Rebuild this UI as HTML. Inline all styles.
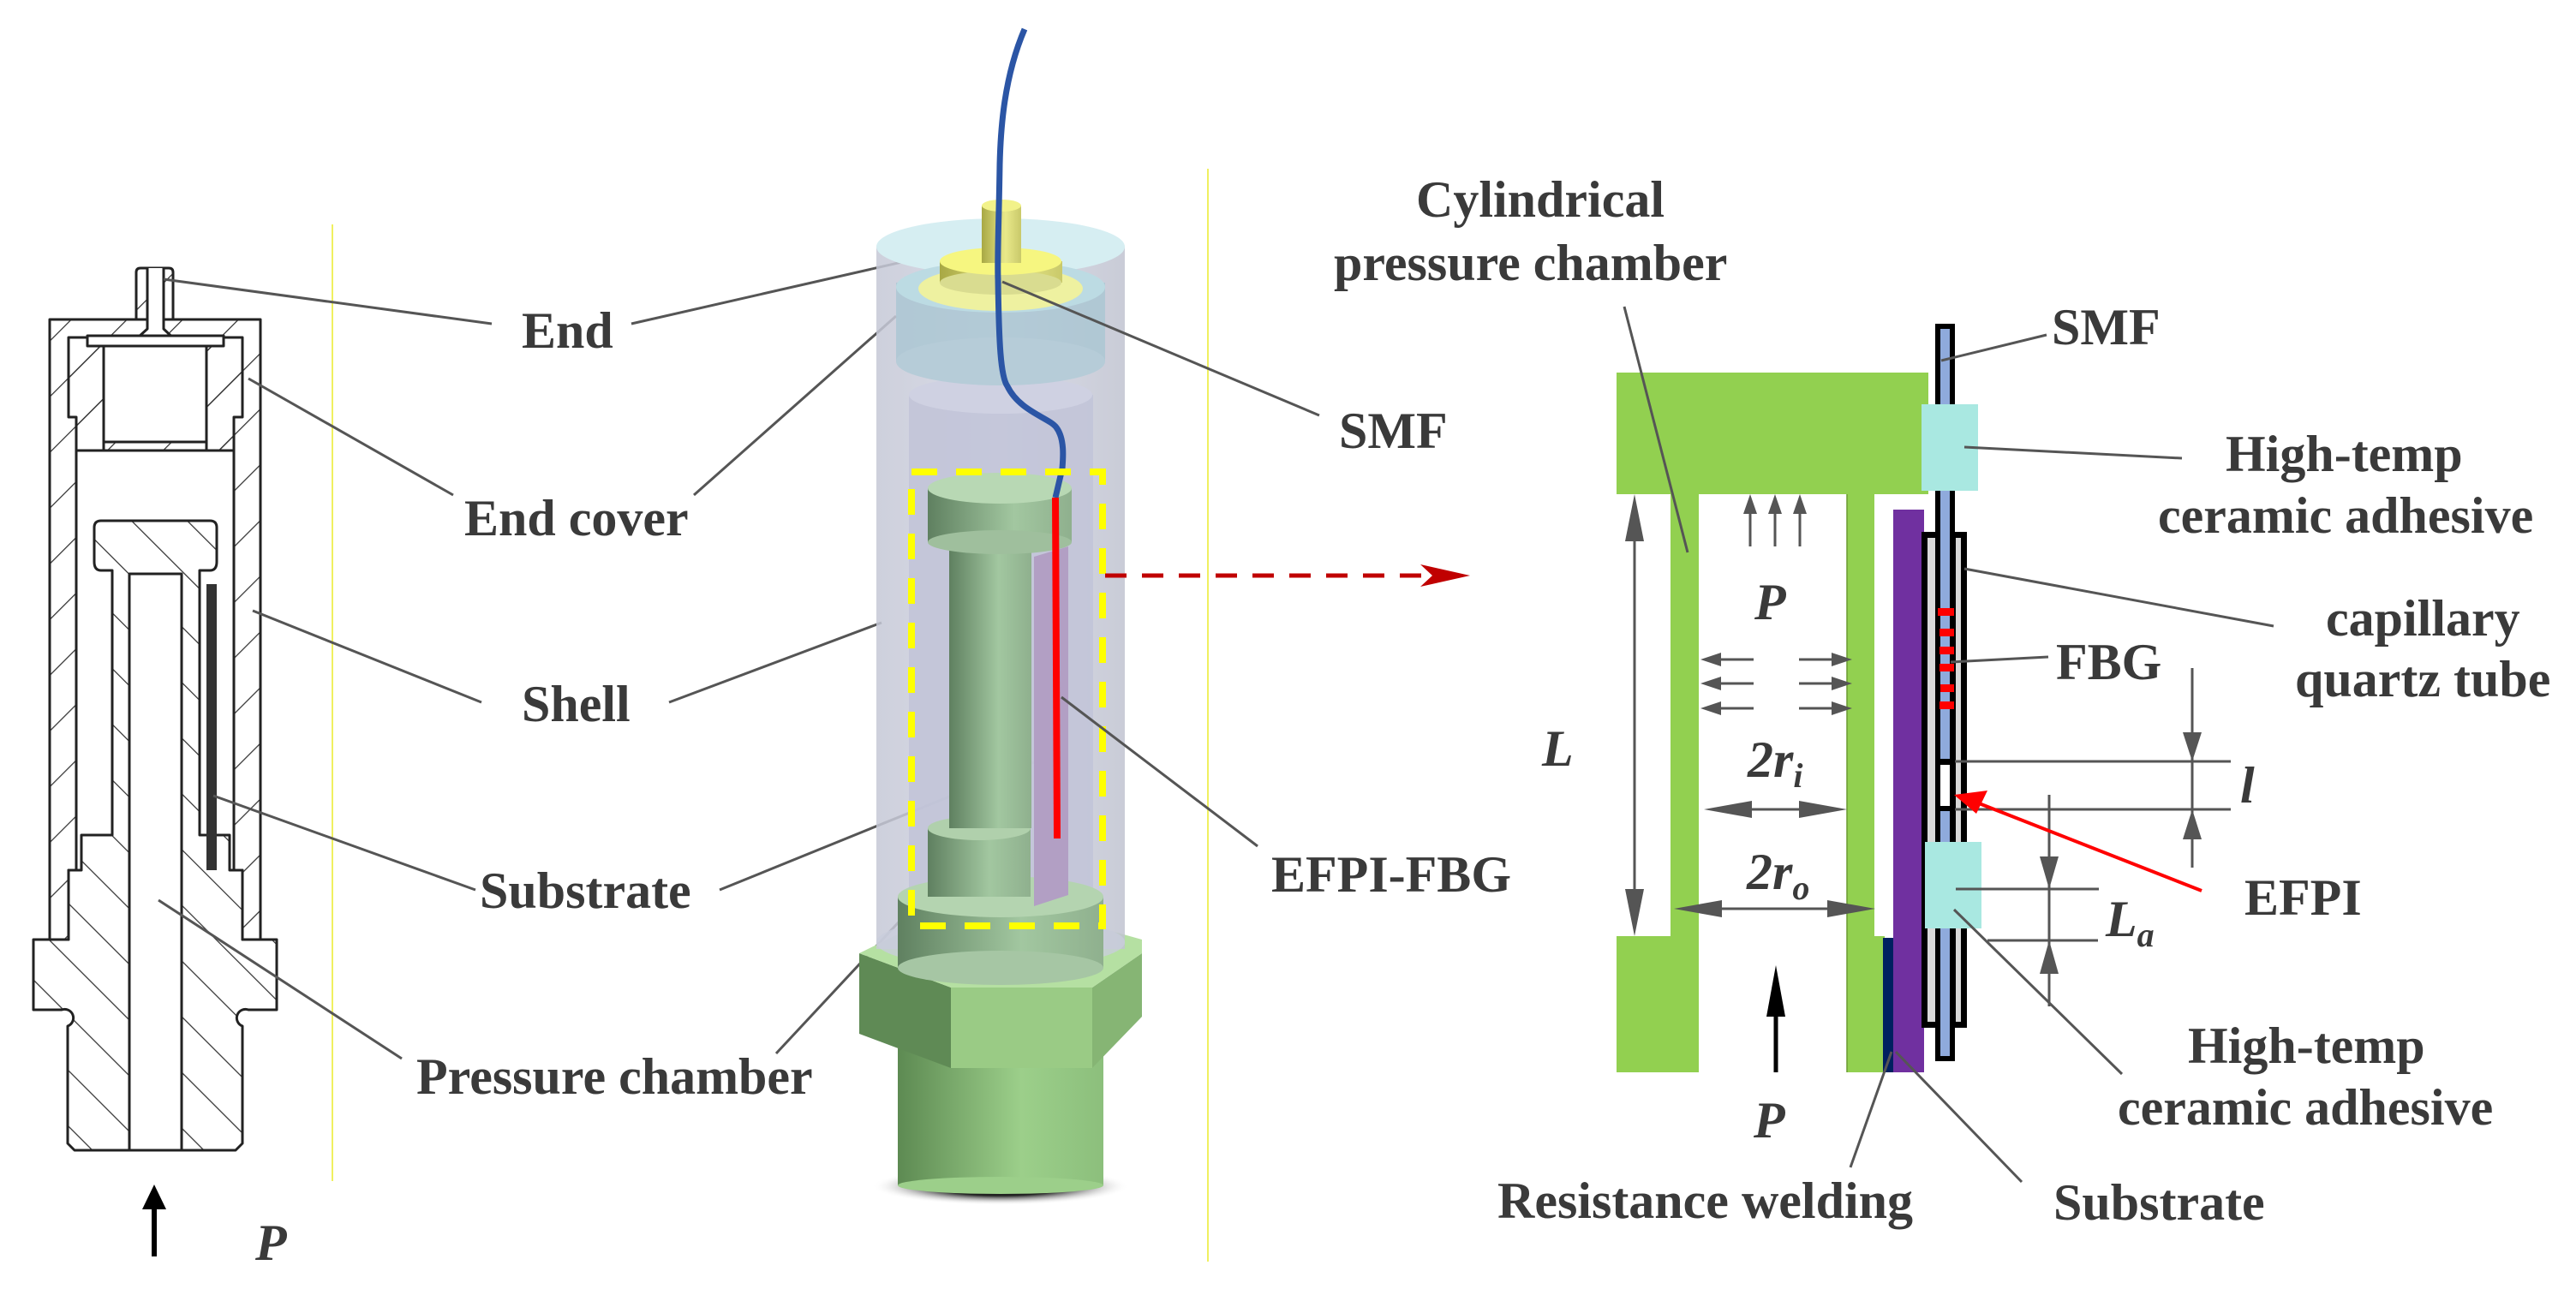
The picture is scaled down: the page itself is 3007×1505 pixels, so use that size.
<!DOCTYPE html>
<html><head><meta charset="utf-8"><style>
html,body{margin:0;padding:0;background:#fff}
svg{display:block}
text{font-family:"Liberation Serif",serif;font-weight:bold;fill:#3a3a3a;font-size:60px}
.it{font-style:italic}
</style></head><body>
<svg width="3007" height="1505" viewBox="0 0 3007 1505" xmlns="http://www.w3.org/2000/svg">
<defs>
<pattern id="h1" patternUnits="userSpaceOnUse" width="46" height="46" patternTransform="rotate(45)">
<line x1="0" y1="0" x2="0" y2="46" stroke="#333" stroke-width="2.5"/></pattern>
<pattern id="h2" patternUnits="userSpaceOnUse" width="46" height="46" patternTransform="rotate(-45)">
<line x1="0" y1="0" x2="0" y2="46" stroke="#333" stroke-width="2.5"/></pattern>
<linearGradient id="gG" x1="0" x2="1"><stop offset="0" stop-color="#5f8060"/><stop offset="0.6" stop-color="#a2c7a0"/><stop offset="1" stop-color="#8fb08e"/></linearGradient>
<linearGradient id="gB" x1="0" x2="1"><stop offset="0" stop-color="#5d8a52"/><stop offset="0.6" stop-color="#9ccf8a"/><stop offset="1" stop-color="#8cbf7c"/></linearGradient>
<linearGradient id="gShell" x1="0" x2="1"><stop offset="0" stop-color="#c5c8d6"/><stop offset="0.5" stop-color="#d3d5e3"/><stop offset="1" stop-color="#c0c3d0"/></linearGradient>
<linearGradient id="gY" x1="0" x2="1"><stop offset="0" stop-color="#a8a844"/><stop offset="0.6" stop-color="#e9e98a"/><stop offset="1" stop-color="#c9c96a"/></linearGradient>
<radialGradient id="shadow" cx="0.5" cy="0.5" r="0.5"><stop offset="0.5" stop-color="#222"/><stop offset="1" stop-color="#fff" stop-opacity="0"/></radialGradient>
<marker id="ah" markerWidth="10" markerHeight="10" refX="9" refY="5" orient="auto" markerUnits="userSpaceOnUse" viewBox="0 0 10 10"><path d="M0,0 L10,5 L0,10z" fill="#555"/></marker>
</defs>

<!-- ===== LEFT CROSS SECTION ===== -->
<g stroke="#222" stroke-width="3" stroke-linejoin="round">
<!-- shell -->
<path d="M58,373 H304 V1097 H283 V1016 H273 V526 H89 V1016 H80 V1097 H58 Z" fill="url(#h1)"/>
<!-- end cover -->
<path d="M80,394 H121 V404 H241 V394 H283 V487 H273 V526 H241 V516 H121 V526 H89 V487 H80 Z" fill="url(#h1)"/>
<rect x="121" y="404" width="120" height="112" fill="#fff"/>
<!-- nozzle -->
<path d="M159,373 V318 Q159,313 164,313 H197 Q202,313 202,318 V373 Z" fill="url(#h1)"/>
<path d="M172,313 V384 L150,404 H212 L191,384 V313" fill="#fff"/>
<path d="M102,404 H261 V392 H102 Z" fill="#fff"/>
<!-- substrate/pressure chamber body -->
<path d="M118,608 H245 Q253,608 253,616 V656 Q253,666 245,666 H233 V975 H268 V1016 H283 V1097 H323 V1179 H290 A10,10 0 0 0 283,1198 V1335 L275,1343 H87 L79,1335 V1198 A10,10 0 0 0 72,1179 H39 V1097 H80 V1016 H95 V975 H131 V666 H118 Q110,666 110,656 V616 Q110,608 118,608 Z" fill="url(#h2)"/>
<rect x="151" y="670" width="61" height="673" fill="#fff"/>
<line x1="151" y1="670" x2="151" y2="1343"/><line x1="212" y1="670" x2="212" y2="1343"/>
<line x1="151" y1="670" x2="212" y2="670"/>
</g>
<rect x="241" y="682" width="12" height="334" fill="#333"/>
<line x1="388" y1="262" x2="388" y2="1379" stroke="#f0f060" stroke-width="2"/>
<!-- P arrow -->
<line x1="180" y1="1400" x2="180" y2="1467" stroke="#000" stroke-width="6"/>
<path d="M166,1412 L180,1383 L194,1412 Z" fill="#000"/>
<text x="298" y="1471" class="it" font-size="66">P</text>

<!-- left labels & leaders -->
<g stroke="#555" stroke-width="3">
<line x1="191" y1="326" x2="574" y2="378"/><line x1="737" y1="378" x2="1123" y2="290"/>
<line x1="290" y1="442" x2="529" y2="578"/><line x1="810" y1="578" x2="1046" y2="369"/>
<line x1="295" y1="713" x2="562" y2="820"/><line x1="781" y1="820" x2="1029" y2="727"/>
<line x1="249" y1="929" x2="555" y2="1039"/><line x1="840" y1="1039" x2="1207" y2="890"/>
<line x1="185" y1="1051" x2="469" y2="1236"/><line x1="906" y1="1230" x2="1155" y2="963"/>
</g>
<text x="609" y="406">End</text>
<text x="542" y="625">End cover</text>
<text x="609" y="842">Shell</text>
<text x="560" y="1060">Substrate</text>
<text x="486" y="1277">Pressure chamber</text>

<!-- ===== 3D MODEL ===== -->
<ellipse cx="1168" cy="1385" rx="150" ry="22" fill="url(#shadow)"/>
<rect x="1048" y="1224" width="240" height="160" fill="url(#gB)"/>
<ellipse cx="1168" cy="1384" rx="120" ry="10" fill="#9ccf8a"/>
<!-- hex nut -->
<path d="M1003,1113 L1110,1153 L1110,1247 L1003,1207 Z" fill="#5f8a55"/>
<path d="M1110,1153 L1275,1153 L1275,1247 L1110,1247 Z" fill="#9acb85"/>
<path d="M1275,1153 L1333,1113 L1333,1187 L1275,1247 Z" fill="#86b574"/>
<path d="M1003,1113 L1060,1085 L1290,1085 L1333,1097 L1333,1113 L1275,1153 L1110,1153 Z" fill="#b5e0a2"/>
<!-- outer transparent cylinder -->
<rect x="1023" y="288" width="290" height="820" fill="url(#gShell)" opacity="0.85"/>
<ellipse cx="1168" cy="1100" rx="145" ry="30" fill="#c9cddc" opacity="0.8"/>
<rect x="1061" y="461" width="215" height="600" fill="#c2c4d8" opacity="0.9"/>
<ellipse cx="1168" cy="461" rx="107" ry="22" fill="#cfd1e2"/>
<!-- end cover ring -->
<rect x="1046" y="330" width="244" height="92" fill="#a9c5d2" opacity="0.8"/>
<ellipse cx="1168" cy="422" rx="122" ry="28" fill="#b6ccd8"/>
<ellipse cx="1168" cy="288" rx="145" ry="33" fill="#d6eef2"/>
<ellipse cx="1168" cy="335" rx="122" ry="30" fill="#bcdbe3"/>
<!-- yellow discs -->
<ellipse cx="1168" cy="337" rx="96" ry="26" fill="#eef1a0"/>
<rect x="1097" y="305" width="143" height="25" fill="url(#gY)"/>
<ellipse cx="1168" cy="330" rx="71" ry="14" fill="#d9dc90"/>
<ellipse cx="1168" cy="305" rx="71" ry="16" fill="#f6f680"/>
<rect x="1146" y="240" width="46" height="67" fill="url(#gY)"/>
<ellipse cx="1169" cy="240" rx="23" ry="7" fill="#f2f28a"/>
<!-- bobbin -->
<rect x="1048" y="1047" width="240" height="83" fill="url(#gG)"/>
<ellipse cx="1168" cy="1130" rx="120" ry="20" fill="#a6c6a4"/>
<ellipse cx="1168" cy="1047" rx="120" ry="24" fill="#b4d4b0"/>
<rect x="1083" y="967" width="120" height="80" fill="url(#gG)"/>
<ellipse cx="1143" cy="967" rx="60" ry="14" fill="#b0d0ac"/>
<rect x="1108" y="633" width="96" height="334" fill="url(#gG)"/>
<rect x="1083" y="570" width="168" height="63" fill="url(#gG)"/>
<ellipse cx="1167" cy="633" rx="84" ry="14" fill="#9fbf9d"/>
<ellipse cx="1167" cy="570" rx="84" ry="18" fill="#b8d8b4"/>
<!-- purple substrate -->
<path d="M1207,650 L1247,638 L1247,1045 L1207,1058 Z" fill="#b29fc4"/>
<!-- fibers -->
<path d="M1196,34 C1172,90 1168,150 1167,192 C1166,260 1164,300 1165,326 C1166,400 1168,440 1176,451 C1190,480 1225,488 1233,499 C1243,512 1241,535 1240,547 L1232,581" fill="none" stroke="#2b55a5" stroke-width="7"/>
<line x1="1232" y1="581" x2="1234" y2="979" stroke="#f00" stroke-width="8"/>
<!-- yellow dashed box -->
<rect x="1064" y="551" width="223" height="530" fill="none" stroke="#ffff00" stroke-width="8" stroke-dasharray="30,22"/>
<!-- red dashed arrow -->
<line x1="1290" y1="672" x2="1690" y2="672" stroke="#c00000" stroke-width="5" stroke-dasharray="25,18"/>
<path d="M1658,659 L1716,672 L1658,685 L1672,672 Z" fill="#c00000"/>
<line x1="1410" y1="197" x2="1410" y2="1473" stroke="#f0f060" stroke-width="2"/>
<g stroke="#555" stroke-width="3">
<line x1="1170" y1="329" x2="1540" y2="485"/>
<line x1="1239" y1="814" x2="1468" y2="988"/>
</g>
<text x="1563" y="523">SMF</text>
<text x="1484" y="1041">EFPI-FBG</text>

<!-- ===== RIGHT SCHEMATIC ===== -->
<text x="1653" y="253">Cylindrical</text>
<text x="1557" y="327">pressure chamber</text>
<rect x="1887" y="435" width="364" height="142" fill="#92d050"/>
<rect x="1950" y="577" width="33" height="675" fill="#92d050"/>
<rect x="1887" y="1093" width="96" height="159" fill="#92d050"/>
<rect x="2156" y="577" width="32" height="675" fill="#92d050"/>
<line x1="2156" y1="577" x2="2156" y2="1252" stroke="#6a9a30" stroke-width="1.5"/>
<rect x="2188" y="1093" width="12" height="159" fill="#92d050"/>
<rect x="2198" y="1095" width="16" height="157" fill="#002060"/>
<rect x="2210" y="595" width="36" height="657" fill="#7030a0"/>
<!-- capillary -->
<rect x="2243" y="621" width="53" height="579" fill="#000"/>
<rect x="2250" y="628" width="9" height="565" fill="#d9d9d9"/>
<rect x="2283" y="628" width="6" height="565" fill="#d9d9d9"/>
<rect x="2259" y="378" width="23" height="861" fill="#000"/>
<rect x="2265" y="384" width="11" height="849" fill="#8faadc"/>
<rect x="2265" y="886" width="11" height="61" fill="#000"/>
<rect x="2265" y="893" width="11" height="48" fill="#fff"/>
<g fill="#f00">
<rect x="2262" y="710" width="19" height="9"/><rect x="2264" y="734" width="17" height="9"/>
<rect x="2264" y="755" width="17" height="9"/><rect x="2264" y="775" width="17" height="9"/>
<rect x="2265" y="799" width="16" height="9"/><rect x="2264" y="819" width="17" height="9"/>
</g>
<rect x="2243" y="472" width="66" height="101" fill="#a9e8e1"/>
<rect x="2247" y="983" width="66" height="101" fill="#a9e8e1"/>
<!-- pressure arrows -->
<g stroke="#555" stroke-width="3" fill="#555">
<line x1="2043" y1="638" x2="2043" y2="595"/><path d="M2035,600 L2043,577 L2051,600Z" stroke="none"/>
<line x1="2072" y1="638" x2="2072" y2="595"/><path d="M2064,600 L2072,577 L2080,600Z" stroke="none"/>
<line x1="2101" y1="638" x2="2101" y2="595"/><path d="M2093,600 L2101,577 L2109,600Z" stroke="none"/>
<line x1="2047" y1="770" x2="2005" y2="770"/><path d="M2009,762 L1985,770 L2009,778Z" stroke="none"/>
<line x1="2047" y1="798" x2="2005" y2="798"/><path d="M2009,790 L1985,798 L2009,806Z" stroke="none"/>
<line x1="2047" y1="827" x2="2005" y2="827"/><path d="M2009,819 L1985,827 L2009,835Z" stroke="none"/>
<line x1="2100" y1="770" x2="2140" y2="770"/><path d="M2138,762 L2162,770 L2138,778Z" stroke="none"/>
<line x1="2100" y1="798" x2="2140" y2="798"/><path d="M2138,790 L2162,798 L2138,806Z" stroke="none"/>
<line x1="2100" y1="827" x2="2140" y2="827"/><path d="M2138,819 L2162,827 L2138,835Z" stroke="none"/>
<!-- L dim -->
<line x1="1908" y1="600" x2="1908" y2="1070"/>
<path d="M1897,632 L1908,577 L1919,632Z" stroke="none"/>
<path d="M1897,1038 L1908,1093 L1919,1038Z" stroke="none"/>
<!-- 2ri -->
<line x1="2010" y1="945" x2="2130" y2="945"/>
<path d="M2045,935 L1989,945 L2045,955Z" stroke="none"/><path d="M2100,935 L2156,945 L2100,955Z" stroke="none"/>
<!-- 2ro -->
<line x1="1980" y1="1061" x2="2160" y2="1061"/>
<path d="M2010,1051 L1954,1061 L2010,1071Z" stroke="none"/><path d="M2133,1051 L2189,1061 L2133,1071Z" stroke="none"/>
<!-- l dim -->
<line x1="2282" y1="889" x2="2604" y2="889"/>
<line x1="2282" y1="945" x2="2604" y2="945"/>
<line x1="2559" y1="780" x2="2559" y2="1013"/>
<path d="M2548,855 L2559,889 L2570,855Z" stroke="none"/>
<path d="M2548,980 L2559,945 L2570,980Z" stroke="none"/>
<!-- La dim -->
<line x1="2283" y1="1038" x2="2450" y2="1038"/>
<line x1="2320" y1="1098" x2="2449" y2="1098"/>
<line x1="2392" y1="928" x2="2392" y2="1175"/>
<path d="M2381,1000 L2392,1038 L2403,1000Z" stroke="none"/>
<path d="M2381,1137 L2392,1098 L2403,1137Z" stroke="none"/>
</g>
<!-- big P arrow -->
<line x1="2073" y1="1150" x2="2073" y2="1252" stroke="#000" stroke-width="5"/>
<path d="M2062,1187 L2073,1127 L2084,1187Z" fill="#000"/>
<text x="2048" y="723" class="it">P</text>
<text x="2047" y="1328" class="it">P</text>
<text x="1800" y="894" class="it">L</text>
<text x="2040" y="907" class="it">2<tspan>r</tspan><tspan font-size="40" dy="12">i</tspan></text>
<text x="2039" y="1038" class="it">2<tspan>r</tspan><tspan font-size="40" dy="12">o</tspan></text>
<text x="2615" y="937" class="it">l</text>
<text x="2458" y="1093" class="it">L<tspan font-size="40" dy="12">a</tspan></text>
<!-- red EFPI arrow -->
<line x1="2570" y1="1040" x2="2300" y2="934" stroke="#f00" stroke-width="4"/>
<path d="M2281,928 L2320,923 L2307,950 Z" fill="#f00"/>
<!-- right leaders -->
<g stroke="#555" stroke-width="3">
<line x1="1896" y1="358" x2="1970" y2="645"/>
<line x1="2266" y1="421" x2="2389" y2="391"/>
<line x1="2293" y1="522" x2="2547" y2="535"/>
<line x1="2293" y1="664" x2="2654" y2="731"/>
<line x1="2277" y1="773" x2="2391" y2="767"/>
<line x1="2281" y1="1062" x2="2477" y2="1254"/>
<line x1="2213" y1="1228" x2="2360" y2="1380"/>
<line x1="2208" y1="1228" x2="2160" y2="1363"/>
</g>
<text x="2395" y="402">SMF</text>
<text x="2598" y="550">High-temp</text>
<text x="2519" y="622">ceramic adhesive</text>
<text x="2715" y="742">capillary</text>
<text x="2679" y="813">quartz tube</text>
<text x="2400" y="793">FBG</text>
<text x="2620" y="1068">EFPI</text>
<text x="2554" y="1241">High-temp</text>
<text x="2472" y="1313">ceramic adhesive</text>
<text x="1748" y="1422">Resistance welding</text>
<text x="2397" y="1424">Substrate</text>
</svg>
</body></html>
